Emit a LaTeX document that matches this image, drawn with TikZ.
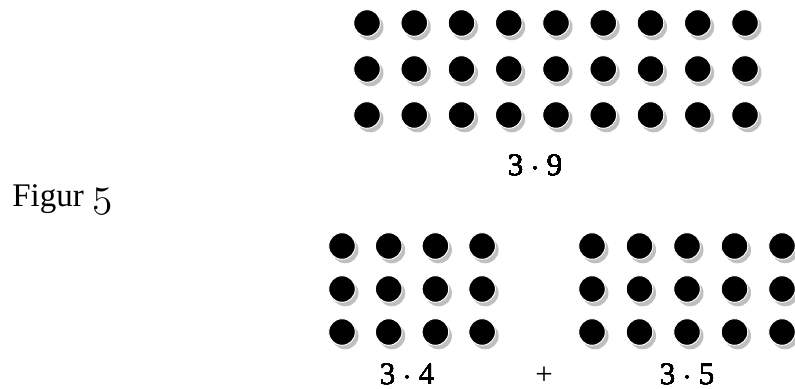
\documentclass[tikz,border=0pt]{standalone}
\usepackage{fontspec}
\setmainfont{Liberation Serif}
\usetikzlibrary{positioning}
\newcommand{\osfive}{{\fontsize{20pt}{22pt}\usefont{OML}{cmm}{m}{it}5}}

\tikzset{
    shadowdot/.style={fill=black!25, draw=none},
    blackdot/.style={fill=black, draw=white, line width=0.5pt},
    lab/.style={font=\fontsize{15.5pt}{18pt}\selectfont, inner sep=0pt, anchor=base}
}

% 一个带阴影的圆点
\newcommand{\shadedot}[2]{%
    \fill[shadowdot] (#1+3.2,#2+4) circle[radius=6.65pt];
    \filldraw[blackdot] (#1,#2) circle[radius=6.65pt];
}

\begin{document}
\begin{tikzpicture}[x=0.5pt, y=-0.5pt]
    \useasboundingbox (0,0) rectangle (795,389);

    % 上面: 3 x 9
    \foreach \r in {0,1,2}
        \foreach \c in {0,...,8}
            \shadedot{367+47.25*\c}{23+46*\r}
    \node[lab] (top) at (535,176) {3 $\cdot$ 9};

    % 标题
    \node[lab, anchor=base west, font=\fontsize{16.5pt}{19pt}\selectfont] (figur) at (12,207) {Figur \osfive};

    % 下面左: 3 x 4
    \foreach \r in {0,1,2}
        \foreach \c in {0,...,3}
            \shadedot{342+46.7*\c}{246+43*\r}
    \node[lab] (left) at (407,384) {3 $\cdot$ 4};

    % 下面右: 3 x 5
    \foreach \r in {0,1,2}
        \foreach \c in {0,...,4}
            \shadedot{592+47.5*\c}{246+43*\r}
    \node[lab] (right) at (687,384) {3 $\cdot$ 5};

    % 加号
    \node[lab] (plus) at (544,384) {+};

\end{tikzpicture}
\end{document}
